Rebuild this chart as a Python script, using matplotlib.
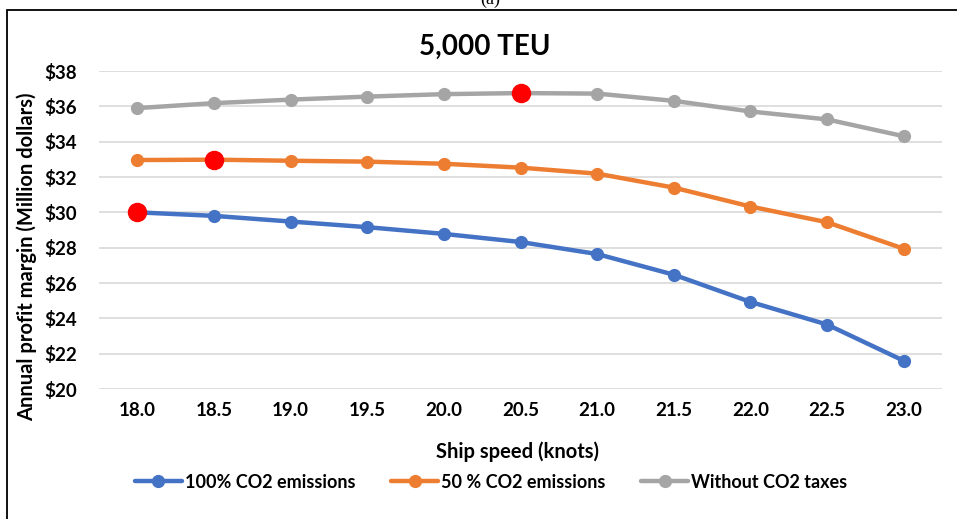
import matplotlib
matplotlib.use('Agg')
import matplotlib.pyplot as plt
from matplotlib.patches import Rectangle

# Annual profit margin vs ship speed, 5,000 TEU vessel
speeds = [18.0, 18.5, 19.0, 19.5, 20.0, 20.5, 21.0, 21.5, 22.0, 22.5, 23.0]
speed_labels = ['18.0', '18.5', '19.0', '19.5', '20.0', '20.5', '21.0', '21.5', '22.0', '22.5', '23.0']
co2_full = [30.00, 29.80, 29.48, 29.16, 28.78, 28.32, 27.64, 26.47, 24.93, 23.65, 21.60]
co2_half = [32.96, 32.98, 32.92, 32.87, 32.75, 32.53, 32.19, 31.40, 30.33, 29.44, 27.94]
no_tax = [35.90, 36.18, 36.38, 36.55, 36.69, 36.75, 36.72, 36.31, 35.71, 35.26, 34.31]
series_names = ['100% CO2 emissions', '50 % CO2 emissions', 'Without CO2 taxes']
y_ticks = [20, 22, 24, 26, 28, 30, 32, 34, 36, 38]

colors = ['#4472C4', '#ED7D31', '#A5A5A5']
font = 'Lato'

fig = plt.figure(figsize=(9.57, 5.19), dpi=100)
ax = fig.add_axes([99 / 957, 1 - 389 / 519, (942 - 99) / 957, (389 - 71) / 519])

for vals, name, c in zip([co2_full, co2_half, no_tax], series_names, colors):
    ax.plot(speeds, vals, color=c, lw=3.2, marker='o', ms=8.5, label=name,
            solid_capstyle='round', zorder=3)
    # highlight the best speed for each case
    best = vals.index(max(vals))
    ax.plot(speeds[best], vals[best], 'o', color='#FF0000', ms=13, zorder=4)

ax.set_xlim(17.75, 23.25)
ax.set_ylim(20, 38)
ax.set_xticks(speeds)
ax.set_xticklabels(speed_labels)
ax.set_yticks(y_ticks)
ax.set_yticklabels(['$%d' % v for v in y_ticks])
ax.tick_params(length=0)
for lab in ax.get_xticklabels() + ax.get_yticklabels():
    lab.set_fontfamily(font)
    lab.set_fontweight('bold')
    lab.set_fontsize(13.5)
ax.tick_params(axis='x', pad=9)
ax.tick_params(axis='y', pad=16)
ax.grid(axis='y', color='#D9D9D9', lw=1.2)
ax.set_axisbelow(True)
for s in ax.spines.values():
    s.set_visible(False)

ax.set_xlabel('Ship speed (knots)', fontfamily=font, fontweight='bold', fontsize=14.5)
ax.xaxis.set_label_coords(0.497, -0.165)
ax.set_ylabel('Annual profit margin (Million dollars)', fontfamily=font, fontweight='bold', fontsize=14.5)
ax.yaxis.set_label_coords(-0.073, 0.415)

fig.text(0.507, 1 - 47 / 519, '5,000 TEU', ha='center', va='center',
         fontfamily=font, fontweight='bold', fontsize=20)

leg = fig.legend(loc='center', bbox_to_anchor=(0.513, 1 - 482 / 519), ncol=3,
                 frameon=False, handlelength=2.6, handletextpad=0.15, columnspacing=2.0,
                 prop={'family': font, 'weight': 'bold', 'size': 13})

# outer frame and cut-off panel tag
fig.patches.append(Rectangle((7 / 957, -0.1), 1.0, 1.1 - 10 / 519, transform=fig.transFigure,
                             fill=False, edgecolor='black', lw=1.3))
fig.text(0.512, 1 - 8 / 519, '(a)', ha='center', va='bottom', fontfamily='Liberation Serif', fontsize=13)

fig.savefig('out.png', dpi=100)
